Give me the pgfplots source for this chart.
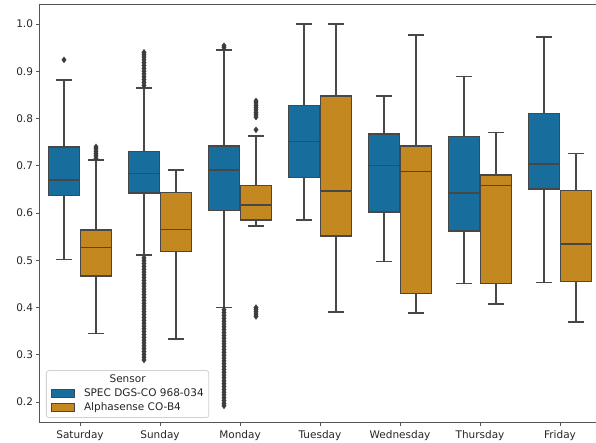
\documentclass[border=0pt]{standalone}
\usepackage{pgfplots}
\pgfplotsset{compat=1.18}
\usepgfplotslibrary{statistics}
\usepackage{fontspec}
\setmainfont{DejaVu Sans}
\definecolor{sblue}{HTML}{176D9C}
\definecolor{sorange}{HTML}{C38820}
\definecolor{edgegray}{HTML}{474747}
\definecolor{axgray}{HTML}{555555}
\definecolor{txt}{HTML}{262626}
\pgfplotsset{
  bstyle/.style={line width=1.5pt, draw=edgegray, mark=diamond*, mark size=3pt,
    mark options={fill=edgegray!85!black, draw=edgegray!85!black, line width=0.3pt},
    boxplot/box extend=0.39, boxplot/whisker extend=0.2},
  bb/.style={bstyle, fill=sblue},
  bo/.style={bstyle, fill=sorange},
}
\begin{document}
\begin{tikzpicture}
\begin{axis}[
  scale only axis, width=560pt, height=418.3pt,
  xmin=-0.5, xmax=6.5, ymin=0.1556, ymax=1.0408,
  boxplot/draw direction=y,
  xtick={0,1,2,3,4,5,6},
  xticklabels={Saturday,Sunday,Monday,Tuesday,Wednesday,Thursday,Friday},
  ytick={0.2,0.3,0.4,0.5,0.6,0.7,0.8,0.9,1.0},
  yticklabel style={/pgf/number format/.cd, fixed, fixed zerofill, precision=1},
  /pgf/number format/assume math mode=true,
  tick label style={font=\fontsize{10.5}{12.5}\selectfont, text=txt},
  xticklabel style={yshift=-0.5pt},
  xtick pos=bottom, ytick pos=left,
  tick align=outside, major tick length=3.5pt,
  tick style={axgray, line width=0.8pt},
  axis line style={axgray, line width=1pt},
  clip=false,
]
% Saturday
\addplot[bb, boxplot prepared={draw position=-0.2, lower whisker=0.502, lower quartile=0.637, median=0.670, upper quartile=0.740, upper whisker=0.881}]
  table[row sep=\\, y index=0] {data\\ 0.924\\};
\addplot[bo, boxplot prepared={draw position=0.2, lower whisker=0.345, lower quartile=0.467, median=0.527, upper quartile=0.564, upper whisker=0.712}]
  table[row sep=\\, y index=0] {data\\ 0.716\\ 0.721\\ 0.726\\ 0.731\\ 0.736\\ 0.740\\};
% Sunday
\addplot[bb, boxplot prepared={draw position=0.8, lower whisker=0.511, lower quartile=0.642, median=0.684, upper quartile=0.730, upper whisker=0.865}]
  table[row sep=\\, y index=0] {data\\ 0.870\\ 0.876\\ 0.882\\ 0.888\\ 0.894\\ 0.900\\ 0.906\\ 0.912\\ 0.918\\ 0.924\\ 0.930\\ 0.935\\ 0.940\\
  0.505\\ 0.499\\ 0.493\\ 0.487\\ 0.481\\ 0.475\\ 0.469\\ 0.463\\ 0.457\\ 0.451\\ 0.445\\ 0.439\\ 0.433\\ 0.427\\ 0.421\\ 0.415\\ 0.409\\ 0.403\\ 0.397\\ 0.391\\ 0.385\\ 0.379\\ 0.373\\ 0.367\\ 0.361\\ 0.355\\ 0.349\\ 0.343\\ 0.337\\ 0.331\\ 0.325\\ 0.319\\ 0.313\\ 0.307\\ 0.301\\ 0.295\\ 0.289\\};
\addplot[bo, boxplot prepared={draw position=1.2, lower whisker=0.333, lower quartile=0.518, median=0.565, upper quartile=0.643, upper whisker=0.691}]
  coordinates {};
% Monday
\addplot[bb, boxplot prepared={draw position=1.8, lower whisker=0.400, lower quartile=0.605, median=0.691, upper quartile=0.742, upper whisker=0.945}]
  table[row sep=\\, y index=0] {data\\ 0.950\\ 0.954\\
  0.395\\ 0.389\\ 0.383\\ 0.377\\ 0.371\\ 0.365\\ 0.359\\ 0.353\\ 0.347\\ 0.341\\ 0.335\\ 0.329\\ 0.323\\ 0.317\\ 0.311\\ 0.305\\ 0.299\\ 0.293\\ 0.287\\ 0.281\\ 0.275\\ 0.269\\ 0.263\\ 0.257\\ 0.251\\ 0.245\\ 0.239\\ 0.233\\ 0.227\\ 0.221\\ 0.215\\ 0.209\\ 0.203\\ 0.197\\ 0.192\\};
\addplot[bo, boxplot prepared={draw position=2.2, lower whisker=0.5725, lower quartile=0.585, median=0.617, upper quartile=0.658, upper whisker=0.763}]
  table[row sep=\\, y index=0] {data\\ 0.776\\ 0.803\\ 0.808\\ 0.813\\ 0.818\\ 0.823\\ 0.828\\ 0.833\\ 0.837\\ 0.381\\ 0.386\\ 0.391\\ 0.396\\ 0.400\\};
% Tuesday
\addplot[bb, boxplot prepared={draw position=2.8, lower whisker=0.585, lower quartile=0.675, median=0.751, upper quartile=0.827, upper whisker=1.000}]
  coordinates {};
\addplot[bo, boxplot prepared={draw position=3.2, lower whisker=0.390, lower quartile=0.551, median=0.647, upper quartile=0.848, upper whisker=1.000}]
  coordinates {};
% Wednesday
\addplot[bb, boxplot prepared={draw position=3.8, lower whisker=0.497, lower quartile=0.602, median=0.700, upper quartile=0.767, upper whisker=0.848}]
  coordinates {};
\addplot[bo, boxplot prepared={draw position=4.2, lower whisker=0.388, lower quartile=0.430, median=0.6875, upper quartile=0.742, upper whisker=0.977}]
  coordinates {};
% Thursday
\addplot[bb, boxplot prepared={draw position=4.8, lower whisker=0.451, lower quartile=0.562, median=0.642, upper quartile=0.7615, upper whisker=0.8885}]
  coordinates {};
\addplot[bo, boxplot prepared={draw position=5.2, lower whisker=0.407, lower quartile=0.451, median=0.658, upper quartile=0.680, upper whisker=0.770}]
  coordinates {};
% Friday
\addplot[bb, boxplot prepared={draw position=5.8, lower whisker=0.453, lower quartile=0.651, median=0.704, upper quartile=0.811, upper whisker=0.9725}]
  coordinates {};
\addplot[bo, boxplot prepared={draw position=6.2, lower whisker=0.369, lower quartile=0.455, median=0.534, upper quartile=0.648, upper whisker=0.7255}]
  coordinates {};
% legend
\node[anchor=south west, draw=black!18, line width=0.8pt, rounded corners=2.5pt, fill=white, fill opacity=0.8, text opacity=1,
  inner xsep=5pt, inner ysep=3pt, font=\fontsize{10.5}{13}\selectfont, text=txt]
  at ([xshift=6pt,yshift=5pt]rel axis cs:0,0) {%
  \setlength\fboxsep{0pt}\setlength\fboxrule{0.8pt}%
  \begin{tabular}{@{}l@{\hspace{9pt}}l@{}}
  \multicolumn{2}{c}{Sensor}\\[1pt]
  \fcolorbox{edgegray}{sblue}{\rule{0pt}{7pt}\hspace{22pt}} & SPEC DGS-CO 968-034\\[1pt]
  \fcolorbox{edgegray}{sorange}{\rule{0pt}{7pt}\hspace{22pt}} & Alphasense CO-B4
  \end{tabular}};
\end{axis}
\pgfresetboundingbox
\path[use as bounding box] (-40pt,-20pt) rectangle (556pt,423pt);
\end{tikzpicture}
\end{document}
